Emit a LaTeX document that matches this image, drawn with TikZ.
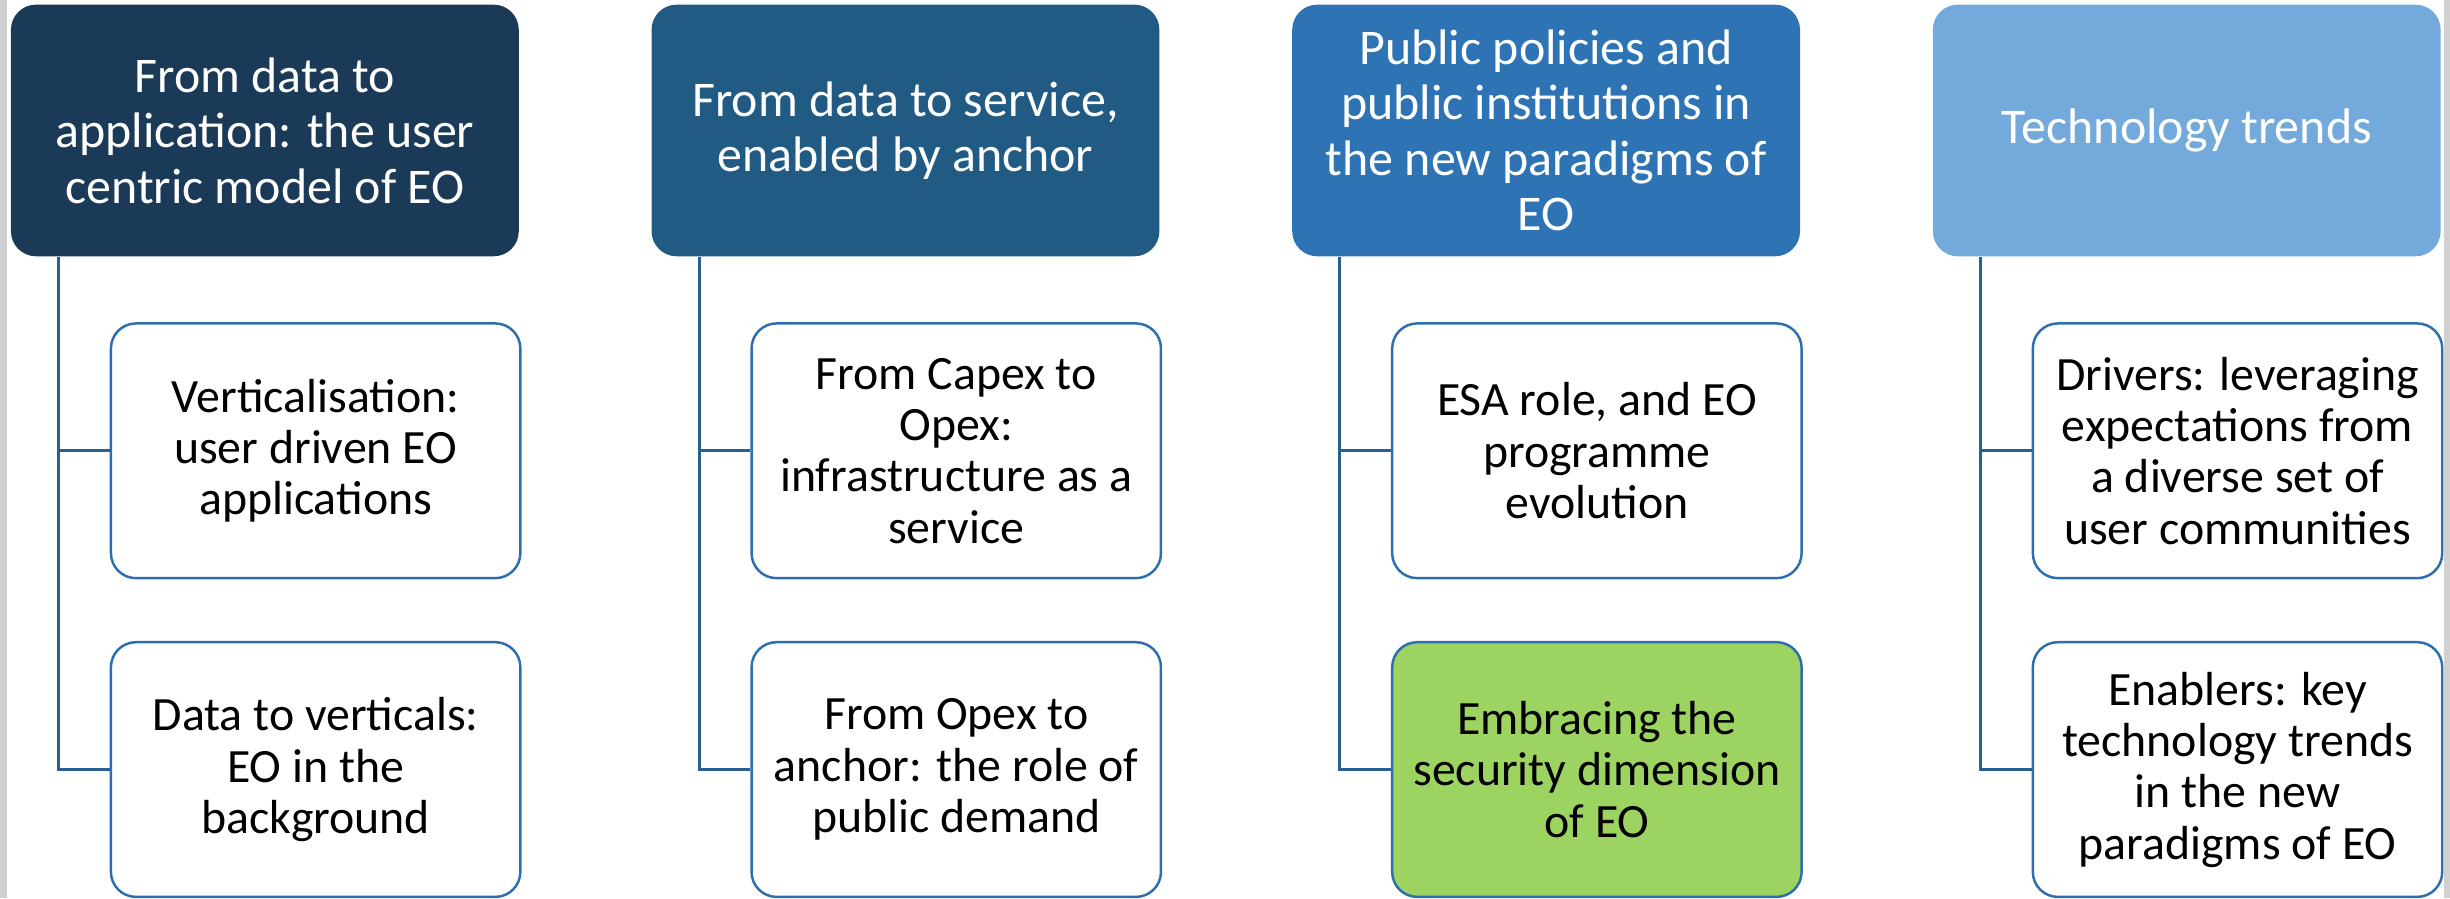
\documentclass[tikz,border=0pt]{standalone}
\usepackage{fontspec}
\setmainfont{Carlito}
\usepackage{tikz}

\definecolor{hdone}{HTML}{1B3A57}
\definecolor{hdtwo}{HTML}{215A83}
\definecolor{hdthree}{HTML}{2E74B5}
\definecolor{hdfour}{HTML}{74AADB}
\definecolor{boxline}{HTML}{2E6DAE}
\definecolor{linkline}{HTML}{2A5F92}
\definecolor{secgreen}{HTML}{9DD360}
\definecolor{sidegray}{HTML}{D0D0D0}

\tikzset{
    head/.style={rounded corners=2.5mm, minimum width=5.078cm, minimum height=2.516cm,
        inner sep=0pt, text=white, align=center, font=\fontsize{14.2}{15.8}\selectfont},
    item/.style={draw=boxline, line width=0.7pt, fill=white, rounded corners=2.5mm,
        minimum width=4.094cm, minimum height=2.547cm, inner sep=0pt, align=center,
        font=\fontsize{13.6}{14.6}\selectfont},
    link/.style={draw=linkline, line width=0.85pt}
}

\begin{document}
\begin{tikzpicture}[x=0.015625cm, y=-0.015625cm]
    \useasboundingbox (0,0) rectangle (1568,575);
    \fill[sidegray] (0,0) rectangle (4.5,575);
    \fill[sidegray] (1564,0) rectangle (1568,575);

    \node[head, fill=hdone] (h1) at (169.5,83.5) {From data to\\application: the user\\centric model of EO};
    \node[head, fill=hdtwo] (h2) at (579.5,83.5) {From data to service,\\enabled by anchor};
    \node[head, fill=hdthree] (h3) at (989.5,83.5) {Public policies and\\public institutions in\\the new paradigms of\\EO};
    \node[head, fill=hdfour] (h4) at (1399.5,83.5) {Technology trends};

    \node[item] (a1) at (202,288.5) {Verticalisation:\\user driven EO\\applications};
    \node[item] (b1) at (202,492.5) {Data to verticals:\\EO in the\\background};
    \node[item] (a2) at (612,288.5) {From Capex to\\Opex:\\infrastructure as a\\service};
    \node[item] (b2) at (612,492.5) {From Opex to\\anchor: the role of\\public demand};
    \node[item] (a3) at (1022,288.5) {ESA role, and EO\\programme\\evolution};
    \node[item, fill=secgreen] (b3) at (1022,492.5) {Embracing the\\security dimension\\of EO};
    \node[item] (a4) at (1432,288.5) {Drivers: leveraging\\expectations from\\a diverse set of\\user communities};
    \node[item] (b4) at (1432,492.5) {Enablers: key\\technology trends\\in the new\\paradigms of EO};

    \draw[link] ([xshift=0.484cm]h1.south west) |- (a1.west);
    \draw[link] ([xshift=0.484cm]h1.south west) |- (b1.west);
    \draw[link] ([xshift=0.484cm]h2.south west) |- (a2.west);
    \draw[link] ([xshift=0.484cm]h2.south west) |- (b2.west);
    \draw[link] ([xshift=0.484cm]h3.south west) |- (a3.west);
    \draw[link] ([xshift=0.484cm]h3.south west) |- (b3.west);
    \draw[link] ([xshift=0.484cm]h4.south west) |- (a4.west);
    \draw[link] ([xshift=0.484cm]h4.south west) |- (b4.west);
\end{tikzpicture}
\end{document}
